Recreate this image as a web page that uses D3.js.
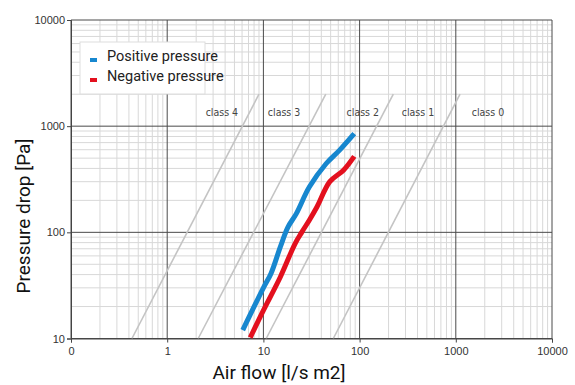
<!DOCTYPE html>
<html>
<head>
<meta charset="utf-8">
<script src="https://cdn.jsdelivr.net/npm/d3@7"></script>
<style>
  body { margin: 0; background: #fff; }
  svg { display: block; }
</style>
</head>
<body>
<script>
// Data
const xTicks = [0.1, 1, 10, 100, 1000, 10000];
const xTickLabels = ["0", "1", "10", "100", "1000", "10000"];
const yTicks = [10, 100, 1000, 10000];
const yTickLabels = ["10", "100", "1000", "10000"];

const positiveFlow = [6.1, 10, 12, 15, 18, 22, 30, 45, 62, 88];
const positivePressure = [12, 30, 41, 73, 112, 150, 267, 445, 595, 850];
const negativeFlow = [7.3, 10, 15, 21.3, 25, 30, 36, 49, 68, 88];
const negativePressure = [10.2, 18.4, 38, 78, 100, 130, 173, 300, 385, 520];

// leakage class reference lines: flow at 10 Pa and at 2000 Pa
const classNames = ["class 4", "class 3", "class 2", "class 1", "class 0"];
const classFlowAt10 = [0.43, 2.1, 10.7, 53.3];
const classFlowAt2000 = [9.0, 44.5, 224, 1107];
const classLabelFlow = [3.7, 16.4, 108, 404, 2160];
const classLineP = [10, 2000];
const classLabelP = 1350;

const seriesNames = ["Positive pressure", "Negative pressure"];
const seriesColors = ["#1787cf", "#e3101e"];

const width = 575, height = 385;
const margin = { top: 20, right: 23, bottom: 46.5, left: 71 };

const svg = d3.select("body").append("svg")
    .attr("width", width)
    .attr("height", height);

const x = d3.scaleLog()
    .domain([0.1, 10000])
    .range([margin.left, width - margin.right]);

const y = d3.scaleLog()
    .domain([10, 10000])
    .range([height - margin.bottom, margin.top]);

// minor grid
const minorX = [];
xTicks.slice(0, -1).forEach(d => { for (let k = 2; k <= 9; k++) minorX.push(d * k); });
const minorY = [];
yTicks.slice(0, -1).forEach(d => { for (let k = 2; k <= 9; k++) minorY.push(d * k); });

const grid = svg.append("g");
grid.selectAll(".mx").data(minorX).enter().append("line")
    .attr("x1", d => x(d)).attr("x2", d => x(d))
    .attr("y1", y.range()[0]).attr("y2", y.range()[1])
    .attr("stroke", "#d8d8d8").attr("stroke-width", 1);
grid.selectAll(".my").data(minorY).enter().append("line")
    .attr("x1", x.range()[0]).attr("x2", x.range()[1])
    .attr("y1", d => y(d)).attr("y2", d => y(d))
    .attr("stroke", "#d8d8d8").attr("stroke-width", 1);

// major grid
grid.selectAll(".Mx").data(xTicks).enter().append("line")
    .attr("x1", d => x(d)).attr("x2", d => x(d))
    .attr("y1", y.range()[0]).attr("y2", y.range()[1])
    .attr("stroke", "#4a4a4a").attr("stroke-width", 1);
grid.selectAll(".My").data(yTicks).enter().append("line")
    .attr("x1", x.range()[0]).attr("x2", x.range()[1])
    .attr("y1", d => y(d)).attr("y2", d => y(d))
    .attr("stroke", "#4a4a4a").attr("stroke-width", 1);

// class lines
const classLines = classFlowAt10.map((f, i) => [[f, classLineP[0]], [classFlowAt2000[i], classLineP[1]]]);
svg.append("g").selectAll("line").data(classLines).enter().append("line")
    .attr("x1", d => x(d[0][0])).attr("y1", d => y(d[0][1]))
    .attr("x2", d => x(d[1][0])).attr("y2", d => y(d[1][1]))
    .attr("stroke", "#c4c4c4").attr("stroke-width", 1.6);

svg.append("g").selectAll("text").data(classNames).enter().append("text")
    .attr("x", (d, i) => x(classLabelFlow[i]))
    .attr("y", y(classLabelP))
    .attr("dy", "0.35em")
    .attr("text-anchor", "middle")
    .style("font-family", "'DejaVu Sans Condensed', 'DejaVu Sans', sans-serif")
    .style("font-size", "10.5px")
    .attr("fill", "#444")
    .text(d => d);

// axes
const xAxis = svg.append("g")
    .attr("transform", `translate(0,${y.range()[0]})`)
    .call(d3.axisBottom(x).tickValues(xTicks).tickFormat((d, i) => xTickLabels[i]).tickSize(4).tickPadding(5));
const yAxis = svg.append("g")
    .attr("transform", `translate(${x.range()[0]},0)`)
    .call(d3.axisLeft(y).tickValues(yTicks).tickFormat((d, i) => yTickLabels[i]).tickSize(4).tickPadding(2));
[xAxis, yAxis].forEach(a => {
    a.select(".domain").attr("stroke", "#444");
    a.selectAll(".tick line").attr("stroke", "#444");
    a.selectAll("text")
        .style("font-family", "'Liberation Sans', Arial, sans-serif")
        .style("font-size", "11px")
        .attr("fill", "#333");
});

// series
const line = d3.line().x(d => x(d[0])).y(d => y(d[1])).curve(d3.curveCatmullRom.alpha(0.5));
const series = [
    d3.zip(positiveFlow, positivePressure),
    d3.zip(negativeFlow, negativePressure)
];
svg.append("g").selectAll("path").data(series).enter().append("path")
    .attr("d", line)
    .attr("fill", "none")
    .attr("stroke", (d, i) => seriesColors[i])
    .attr("stroke-width", 5)
    .attr("stroke-linejoin", "round");

// legend
const legend = svg.append("g").attr("transform", "translate(80,42)");
legend.append("rect")
    .attr("width", 125).attr("height", 52)
    .attr("fill", "#fff").attr("stroke", "#ddd");
legend.selectAll(".mk").data(seriesNames).enter().append("rect")
    .attr("x", 10).attr("y", (d, i) => 16 + i * 20)
    .attr("width", 7).attr("height", 4)
    .attr("fill", (d, i) => seriesColors[i]);
legend.selectAll(".lt").data(seriesNames).enter().append("text")
    .attr("x", 27).attr("y", (d, i) => 14 + i * 20)
    .attr("dy", "0.35em")
    .style("font-family", "Roboto, sans-serif")
    .style("font-size", "14.5px")
    .attr("fill", "#222")
    .text(d => d);

// axis titles
svg.append("text")
    .attr("x", 279).attr("y", 379)
    .attr("text-anchor", "middle")
    .style("font-family", "Roboto, sans-serif")
    .style("font-size", "19px")
    .attr("fill", "#111")
    .text("Air flow [l/s m2]");
svg.append("text")
    .attr("transform", "translate(30,216) rotate(-90)")
    .attr("text-anchor", "middle")
    .style("font-family", "Roboto, sans-serif")
    .style("font-size", "19px")
    .attr("fill", "#111")
    .text("Pressure drop [Pa]");
</script>
</body>
</html>
